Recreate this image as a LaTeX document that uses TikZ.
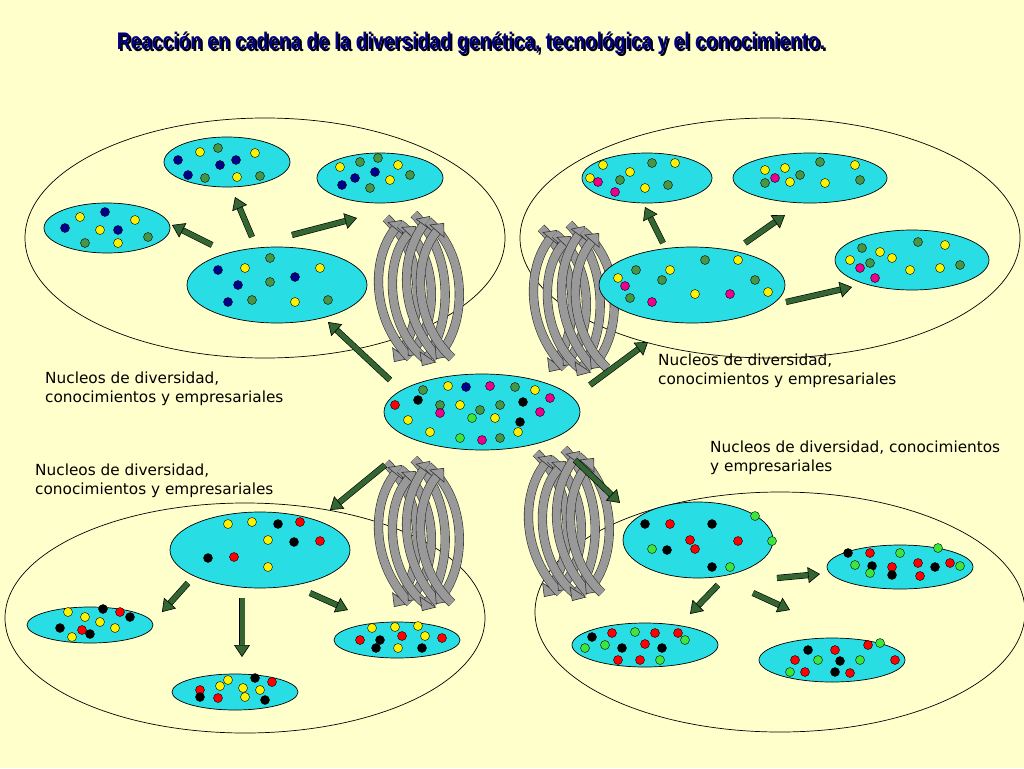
\documentclass[tikz,border=0pt]{standalone}
\usepackage{fontspec}
\setmainfont{DejaVu Sans}
\newfontfamily\titlefont{Liberation Sans}
\usetikzlibrary{arrows.meta}
\definecolor{bgyellow}{RGB}{255,255,204}
\definecolor{cellcyan}{RGB}{40,222,228}
\definecolor{arrowgreen}{RGB}{51,102,51}
\definecolor{dotblue}{RGB}{0,0,140}
\definecolor{dotgreen}{RGB}{70,150,70}
\definecolor{dotlime}{RGB}{60,230,60}
\definecolor{titleblue}{RGB}{0,0,128}
\tikzset{
  big/.style={draw=black, line width=0.7pt},
  cell/.style={draw=black, fill=cellcyan, line width=0.7pt},
  growarrow/.style={draw=black, double=arrowgreen, double distance=5pt, line width=0.6pt,
    -{Triangle[width=16pt,length=12pt,fill=arrowgreen]}},
  swirl/.style={draw=black!80, double=black!40, double distance=8pt, line width=0.6pt,
    -{Triangle[width=20pt,length=11pt,fill=black!40]}},
  lbltext/.style={align=left, anchor=north west, font=\fontsize{15.3}{19}\selectfont, inner sep=0pt},
  titletext/.style={font=\titlefont\bfseries\fontsize{24}{28}\selectfont, xscale=0.8}
}
\def\Dots#1{\foreach \x/\y/\c in {#1} \fill[\c, draw=black, line width=0.4pt] (\x,\y) circle (4.5);}
\def\Swirl#1#2{%
  \foreach \dx/\s in {-22/0,-8/6,6/-4,20/3} {
    \draw[swirl] (#1+\dx-12,#2-72+\s) .. controls (#1+\dx+28,#2-35) and (#1+\dx+26,#2+30) .. (#1+\dx-4,#2+72-\s);
    \draw[swirl] (#1+\dx+12,#2+68) .. controls (#1+\dx-26,#2+30+\s) and (#1+\dx-28,#2-30) .. (#1+\dx+4,#2-70+\s);
  }
}
\begin{document}
\begin{tikzpicture}[x=1pt,y=-1pt]
\fill[bgyellow] (0,0) rectangle (1024,768);
\useasboundingbox (0,0) rectangle (1024,768);
% title
\node[titletext, text=black] at (473,45) {Reacción en cadena de la diversidad genética, tecnológica y el conocimiento.};
\node[titletext, text=titleblue] (title) at (471,43) {Reacción en cadena de la diversidad genética, tecnológica y el conocimiento.};
% big groups
\draw[big] (265,238) ellipse (240 and 120);
\draw[big] (770,238) ellipse (250 and 120);
\draw[big] (245,618) ellipse (240 and 115);
\draw[big] (780,612) ellipse (245 and 120);
% swirls
\Swirl{420}{290}
\Swirl{575}{300}
\Swirl{420}{535}
\Swirl{570}{525}
% cells
\draw[cell] (227,162) ellipse (63 and 25);
\draw[cell] (380,178) ellipse (63 and 25);
\draw[cell] (107,228) ellipse (63 and 25);
\draw[cell] (277,285) ellipse (90 and 38);
\draw[cell] (647,178) ellipse (65 and 25);
\draw[cell] (810,178) ellipse (77 and 25);
\draw[cell] (912,260) ellipse (77 and 30);
\draw[cell] (692,285) ellipse (93 and 38);
\draw[cell] (482,412) ellipse (98 and 38);
\draw[cell] (260,550) ellipse (90 and 38);
\draw[cell] (90,625) ellipse (63 and 18);
\draw[cell] (235,692) ellipse (63 and 18);
\draw[cell] (397,640) ellipse (63 and 18);
\draw[cell] (698,540) ellipse (75 and 38);
\draw[cell] (900,567) ellipse (73 and 22);
\draw[cell] (645,645) ellipse (73 and 22);
\draw[cell] (832,660) ellipse (73 and 22);
% dots
\Dots{178/160/dotblue,200/152/yellow,218/148/dotgreen,236/160/dotblue,255/153/yellow,188/175/dotblue,220/165/dotblue,237/177/yellow,260/176/dotgreen,205/178/dotgreen}
\Dots{340/167/yellow,360/162/dotgreen,378/158/dotgreen,398/165/yellow,355/178/dotblue,375/172/dotblue,390/180/yellow,342/185/dotblue,370/188/dotgreen,410/175/dotgreen}
\Dots{80/217/yellow,105/212/dotblue,135/220/yellow,65/228/dotblue,100/230/yellow,118/230/dotblue,85/243/dotgreen,118/243/yellow,148/237/dotgreen}
\Dots{218/270/dotblue,245/268/yellow,270/258/dotgreen,320/268/yellow,238/285/dotblue,270/282/dotgreen,295/277/dotblue,228/302/dotblue,252/300/dotgreen,295/302/yellow,328/300/dotgreen}
\Dots{603/165/yellow,630/172/yellow,652/163/dotgreen,675/163/yellow,590/178/yellow,620/180/dotgreen,598/182/magenta,615/192/magenta,645/188/yellow,668/185/dotgreen}
\Dots{765/170/yellow,785/168/yellow,820/162/dotgreen,855/165/yellow,775/178/magenta,800/175/dotgreen,765/183/dotgreen,790/182/yellow,825/183/yellow,860/180/dotgreen}
\Dots{862/248/dotgreen,880/252/yellow,918/242/dotgreen,945/245/yellow,850/260/yellow,870/263/dotgreen,892/258/yellow,860/268/magenta,875/278/magenta,910/270/yellow,940/268/yellow,960/265/dotgreen}
\Dots{618/278/yellow,636/270/dotgreen,670/270/yellow,705/260/dotgreen,738/260/yellow,625/286/magenta,662/280/dotgreen,755/280/dotgreen,630/298/dotgreen,695/294/yellow,730/294/magenta,768/292/yellow,652/302/magenta}
\Dots{423/390/dotgreen,448/386/yellow,466/387/dotblue,490/386/magenta,515/387/dotgreen,535/390/yellow,395/405/red,418/400/black,440/405/dotgreen,460/405/yellow,480/410/dotgreen,500/405/dotgreen,523/402/black,550/398/magenta,408/420/yellow,440/413/magenta,472/418/dotlime,495/418/yellow,520/422/black,540/412/magenta,430/432/yellow,460/438/dotlime,482/440/magenta,500/438/dotgreen,518/432/yellow}
\Dots{228/524/yellow,252/522/yellow,278/524/black,300/522/red,268/540/yellow,294/542/black,320/541/red,208/558/black,234/557/red,268/567/yellow}
\Dots{68/612/yellow,85/617/yellow,103/609/black,120/612/red,130/617/black,60/628/black,82/630/red,100/622/yellow,115/628/yellow,72/637/yellow,90/634/black}
\Dots{228/680/yellow,255/678/black,272/682/red,200/690/red,220/686/yellow,243/688/yellow,260/690/yellow,200/697/black,218/698/red,245/697/yellow,265/700/black}
\Dots{372/628/yellow,395/627/yellow,418/626/yellow,360/640/red,380/640/black,402/636/red,425/636/yellow,442/638/red,376/648/black,398/648/yellow,422/648/black}
\Dots{645/524/black,670/524/red,712/524/black,755/516/dotlime,690/540/red,738/541/red,772/541/dotlime,652/549/dotlime,667/550/black,695/549/red,712/567/black,730/567/dotlime}
\Dots{848/553/black,870/553/red,900/553/dotlime,938/548/dotlime,855/565/dotlime,872/566/black,892/567/red,918/563/red,935/567/black,950/563/red,870/573/dotlime,892/575/black,920/576/red,960/566/dotlime}
\Dots{592/637/black,612/633/red,635/632/dotlime,655/633/red,678/633/red,585/648/dotlime,605/645/dotlime,622/648/black,645/644/red,662/648/black,685/640/dotlime,618/660/red,640/660/red,660/660/dotlime}
\Dots{808/650/black,835/650/red,868/645/red,880/643/dotlime,795/660/red,818/660/dotlime,840/661/black,860/660/dotlime,895/660/red,790/672/dotlime,805/672/red,835/672/black,850/673/red}
% growth arrows
\draw[growarrow] (212,245) -- (172,225);
\draw[growarrow] (252,237) -- (235,197);
\draw[growarrow] (292,235) -- (357,218);
\draw[growarrow] (390,380) -- (328,322);
\draw[growarrow] (663,243) -- (645,207);
\draw[growarrow] (745,243) -- (785,215);
\draw[growarrow] (786,302) -- (852,287);
\draw[growarrow] (590,385) -- (648,342);
\draw[growarrow] (385,465) -- (330,510);
\draw[growarrow] (188,583) -- (162,612);
\draw[growarrow] (242,598) -- (242,657);
\draw[growarrow] (310,593) -- (348,610);
\draw[growarrow] (575,460) -- (620,503);
\draw[growarrow] (718,585) -- (690,614);
\draw[growarrow] (753,593) -- (790,610);
\draw[growarrow] (777,578) -- (820,574);
% labels
\node[lbltext] (lbltl) at (45,372) {Nucleos de diversidad,\\conocimientos y empresariales};
\node[lbltext] (lbltr) at (658,354) {Nucleos de diversidad,\\conocimientos y empresariales};
\node[lbltext] (lblbl) at (35,464) {Nucleos de diversidad,\\conocimientos y empresariales};
\node[lbltext] (lblbr) at (710,441) {Nucleos de diversidad, conocimientos\\y empresariales};
\end{tikzpicture}
\end{document}
